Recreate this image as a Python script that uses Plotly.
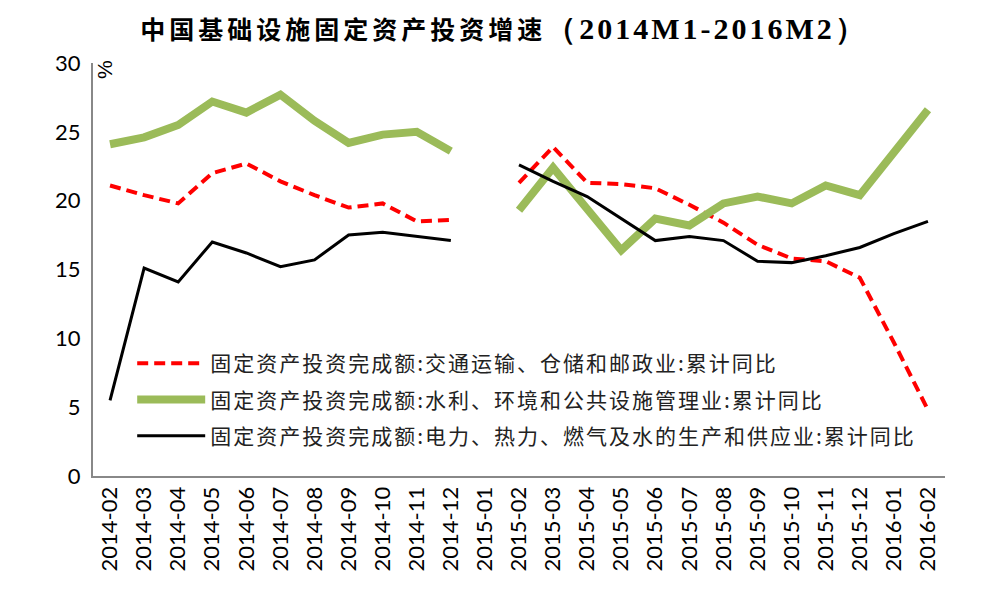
import plotly.graph_objects as go

months = ["2014-02", "2014-03", "2014-04", "2014-05", "2014-06", "2014-07", "2014-08",
          "2014-09", "2014-10", "2014-11", "2014-12", "2015-01", "2015-02", "2015-03",
          "2015-04", "2015-05", "2015-06", "2015-07", "2015-08", "2015-09", "2015-10",
          "2015-11", "2015-12", "2016-01", "2016-02"]

transport = [21.1, 20.4, 19.8, 22.0, 22.7, 21.4, 20.4, 19.5, 19.8, 18.5, 18.6, None,
             21.3, 23.9, 21.3, 21.2, 20.9, 19.7, 18.4, 16.8, 15.8, 15.6, 14.4, 9.7, 4.8]
water = [24.1, 24.6, 25.5, 27.2, 26.4, 27.7, 25.8, 24.2, 24.8, 25.0, 23.6, None,
         19.3, 22.4, 19.4, 16.4, 18.7, 18.2, 19.8, 20.3, 19.8, 21.1, 20.4, 23.5, 26.6]
power = [5.5, 15.1, 14.1, 17.0, 16.2, 15.2, 15.7, 17.5, 17.7, 17.4, 17.1, None,
         22.6, 21.4, 20.3, 18.7, 17.1, 17.4, 17.1, 15.6, 15.5, 16.0, 16.6, 17.6, 18.5]

names = ["固定资产投资完成额:交通运输、仓储和邮政业:累计同比",
         "固定资产投资完成额:水利、环境和公共设施管理业:累计同比",
         "固定资产投资完成额:电力、热力、燃气及水的生产和供应业:累计同比"]

y_ticks = [0, 5, 10, 15, 20, 25, 30]

title_cn = "中国基础设施固定资产投资增速"
title_period = "（2014M1-2016M2）"


def spaced(text, px):
    return f'<span style="letter-spacing:{px}px">{text}</span>'


fig = go.Figure()
fig.add_trace(go.Scatter(x=months, y=transport, mode="lines", name=spaced(names[0], 2),
                         legendgroup="a",
                         line=dict(color="#FF0000", width=4, dash="11px,6px")))
fig.add_trace(go.Scatter(x=months, y=water, mode="lines", name=spaced(names[1], 2),
                         legendgroup="b",
                         line=dict(color="#9BBB59", width=8)))
fig.add_trace(go.Scatter(x=months, y=power, mode="lines", name=spaced(names[2], 2),
                         legendgroup="c",
                         line=dict(color="#000000", width=3)))

title_text = ("<b>" + spaced(title_cn, 4)
              + '<span style="font-family:\'Liberation Serif\';font-size:30px;letter-spacing:3px">'
              + title_period + "</span></b>")

fig.update_layout(
    width=992, height=591,
    margin=dict(l=85, r=55, t=55, b=123),
    plot_bgcolor="white", paper_bgcolor="white",
    title=dict(text=title_text,
               x=0.5, xanchor="center", y=0.962, yanchor="middle",
               font=dict(family="Noto Sans CJK SC", size=25, color="#000")),
    showlegend=True,
    legend=dict(x=0.046, y=0.322, xanchor="left", yanchor="top",
                bgcolor="rgba(0,0,0,0)", tracegroupgap=6, itemwidth=68,
                font=dict(family="Noto Sans CJK SC", size=21, color="#222")),
    xaxis=dict(type="category", categoryorder="array", categoryarray=months,
               range=[-0.5, 24.5], tickangle=-90, showgrid=False,
               showline=True, linecolor="#888", linewidth=2, ticks="",
               tickfont=dict(family="Lato", size=22, color="#000")),
    yaxis=dict(range=[0, 30], tickvals=y_ticks, showgrid=False, zeroline=False,
               showline=True, linecolor="#888", linewidth=2, ticks="",
               ticklabelstandoff=6,
               tickfont=dict(family="Lato", size=22, color="#000")),
)

fig.add_annotation(text="%", xref="paper", yref="paper", x=0.013, y=0.983,
                   xanchor="center", yanchor="middle", showarrow=False, textangle=-90,
                   font=dict(family="Liberation Sans", size=21, color="#000"))

fig.write_html("out.html")
